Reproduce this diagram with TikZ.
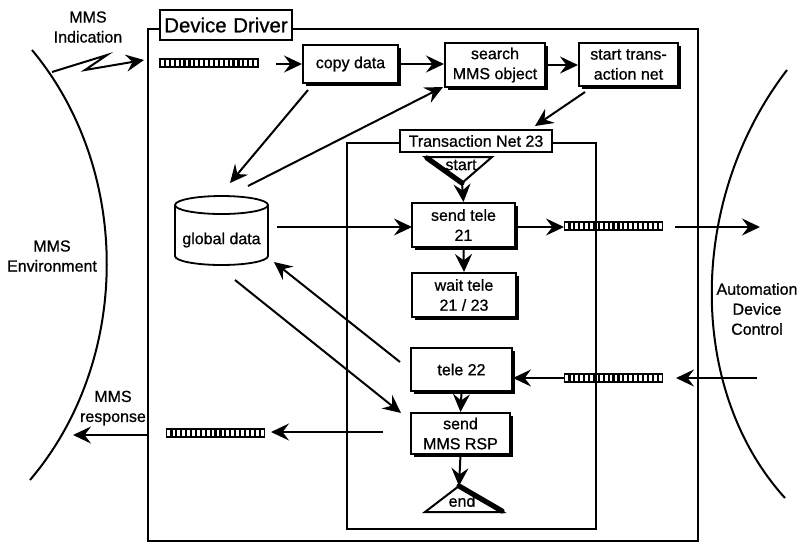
\documentclass[tikz,border=0pt]{standalone}
\usepackage{fontspec}
\setmainfont{Liberation Sans}[FakeBold=0.8]
\usetikzlibrary{arrows.meta,shadows}
\begin{document}
\begin{tikzpicture}[x=0.5pt,y=-0.5pt,
  every node/.style={font=\fontsize{8}{10}\selectfont, align=center, inner sep=0pt},
  wire/.style={line width=1pt},
  arr/.style={wire, -{Stealth[length=9pt,width=8.5pt,inset=3.2pt]}},
  procbox/.style={draw, fill=white, line width=1pt,
    drop shadow={shadow xshift=1.6pt, shadow yshift=-1.6pt, fill=black, opacity=1}},
  frame/.style={draw, line width=0.8pt},
  labelbox/.style={draw, fill=white, line width=0.9pt},
  msgbar/.style={draw, line width=0.9pt, minimum width=49pt, minimum height=4pt,
    path picture={\foreach \k in {1,...,19}{
      \draw[line width=1.1pt]
        ([xshift=\k*2.45pt]path picture bounding box.south west) --
        ([xshift=\k*2.45pt]path picture bounding box.north west);}}},
]
\useasboundingbox (0,0) rectangle (804,543);

% environments on both sides
\draw[wire] (32,50) .. controls (132,170) and (132,360) .. (30,480);
\draw[wire] (787,70) .. controls (687,200) and (687,390) .. (785,498);
\node (envl) at (52,256) {MMS\\Environment};
\node (envr) at (757,309) {Automation\\Device\\Control};
\node (ind) at (88,27) {MMS\\Indication};
\node (rsp) at (113,408) {MMS\\response};

% device driver frame
\draw[frame] (148,29) rectangle (698,541);
\node[labelbox, minimum width=66pt, minimum height=15pt,
  font=\fontsize{10.2}{12}\selectfont] (dd) at (226,25) {Device\kern0.5pt\ Driver};

% transaction net frame
\draw[frame] (347,143) rectangle (596,529);
\node[labelbox, minimum width=76pt, minimum height=11pt] (tn) at (476,141) {Transaction Net 23};

% process boxes
\node[procbox, minimum width=47.5pt, minimum height=19pt] (copy) at (350.5,64) {copy data};
\node[procbox, minimum width=50pt, minimum height=22pt] (search) at (495,65) {search\\MMS object};
\node[procbox, minimum width=49.5pt, minimum height=21.5pt] (startnet) at (628.5,64.5) {start trans-\\action net};
\node[procbox, minimum width=51.5pt, minimum height=22pt] (send21) at (463.5,225) {send tele\\21};
\node[procbox, minimum width=52pt, minimum height=22pt] (wait) at (464,295) {wait tele\\21 / 23};
\node[procbox, minimum width=50.5pt, minimum height=21.5pt] (tele22) at (461.5,369.5) {tele 22};
\node[procbox, minimum width=49.5pt, minimum height=20.5pt] (sendrsp) at (460.5,433.5) {send\\MMS RSP};

% start and end transitions
\draw[line width=1pt, fill=white] (425,157) -- (492,157) -- (462,183) -- cycle;
\draw[line width=2.6pt, line cap=round] (427,158) -- (462,183);
\node (startlbl) at (461,165) {start};
\coordinate (starttip) at (462,183);
\coordinate (endtip) at (459,486);
\draw[line width=1pt, fill=white] (endtip) -- (503,512) -- (425,512) -- cycle;
\draw[line width=2.6pt, line cap=round] (endtip) -- (502,511);
\node (endlbl) at (462,501) {end};

% global data store
\draw[line width=0.9pt, fill=white] (175,205) -- (175,256)
  arc[start angle=180, end angle=360, x radius=23.25pt, y radius=4.5pt] -- (268,205)
  arc[start angle=0, end angle=180, x radius=23.25pt, y radius=4.5pt] -- cycle;
\draw[line width=0.9pt] (175,205) arc[start angle=180, end angle=360, x radius=23.25pt, y radius=4.5pt];
\node[minimum width=46.5pt, minimum height=26pt] (gdata) at (221.5,240) {global data};

% message bars
\node[msgbar] (bar1) at (209,63) {};
\node[msgbar] (bar3) at (613.5,226) {};
\node[msgbar] (bar4) at (613.5,378) {};
\node[msgbar] (bar5) at (215.5,433) {};

% free connector ends
\coordinate (indsrc) at (52,72);
\coordinate (indtip) at (144,60);
\coordinate (b1out) at (276,64);
\coordinate (snout) at (585,92);
\coordinate (tnin) at (535,126);
\coordinate (cpout) at (308,90);
\coordinate (gdin) at (230,183);
\coordinate (gdout) at (248,186);
\coordinate (srin) at (443,87);
\coordinate (gdright) at (277,227);
\coordinate (s21in) at (412,227);
\coordinate (s21out) at (515,227);
\coordinate (b3in) at (564,227);
\coordinate (b3out) at (675,227);
\coordinate (adcin) at (760,227);
\coordinate (adcout) at (757,378);
\coordinate (b4in) at (676,378);
\coordinate (b4out) at (565,378);
\coordinate (t22in) at (513,378);
\coordinate (t22out) at (400,362);
\coordinate (gdin2) at (274,262);
\coordinate (gdout2) at (235,280);
\coordinate (rspin) at (401,413);
\coordinate (rspout) at (383,432);
\coordinate (b5in) at (271,432);
\coordinate (ddout) at (148,435);
\coordinate (envin) at (73,435);

% connectors
\draw[arr] (indsrc) -- (107,55) -- (85,70) -- (indtip);
\draw[arr] (b1out) -- (copy.west);
\draw[arr] (copy.east) -- (copy.east -| search.west);
\draw[arr] (search.east) -- (search.east -| startnet.west);
\draw[arr] (snout) -- (tnin);
\draw[arr] (cpout) -- (gdin);
\draw[arr] (gdout) -- (srin);
\draw[arr] (starttip) -- (send21.north);
\draw[arr] (gdright) -- (s21in);
\draw[arr] (s21out) -- (b3in);
\draw[arr] (b3out) -- (adcin);
\draw[arr] (send21.south) -- (wait.north);
\draw[arr] (adcout) -- (b4in);
\draw[arr] (b4out) -- (t22in);
\draw[arr] (t22out) -- (gdin2);
\draw[arr] (gdout2) -- (rspin);
\draw[arr] (tele22.south) -- (sendrsp.north);
\draw[arr] (rspout) -- (b5in);
\draw[arr] (ddout) -- (envin);
\draw[arr] (sendrsp.south) -- (endtip);
\end{tikzpicture}
\end{document}
